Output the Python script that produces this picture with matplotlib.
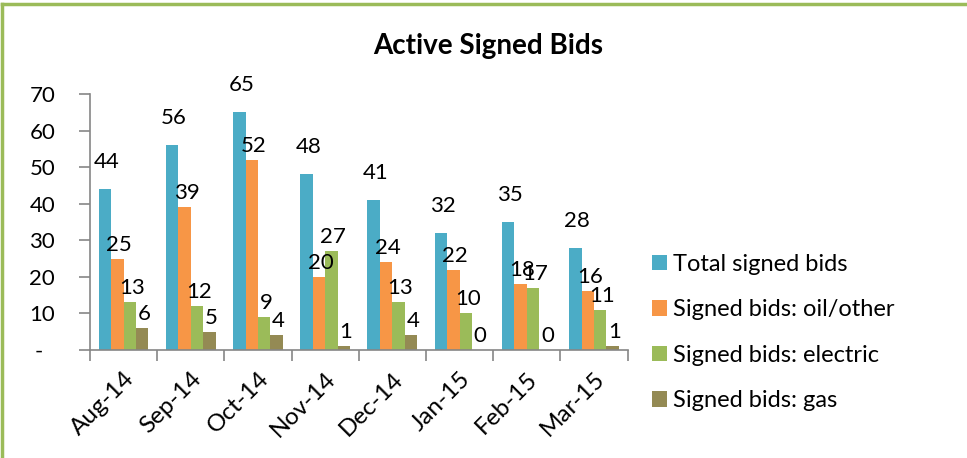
import matplotlib
matplotlib.use("Agg")
import matplotlib.pyplot as plt
import numpy as np
from matplotlib.lines import Line2D
from matplotlib.patches import Patch

plt.rcParams['font.family'] = ['Lato', 'DejaVu Sans']

months = ["Aug-14", "Sep-14", "Oct-14", "Nov-14", "Dec-14", "Jan-15", "Feb-15", "Mar-15"]
series_names = ["Total signed bids", "Signed bids: oil/other", "Signed bids: electric", "Signed bids: gas"]
total = [44, 56, 65, 48, 41, 32, 35, 28]
oil = [25, 39, 52, 20, 24, 22, 18, 16]
electric = [13, 12, 9, 27, 13, 10, 17, 11]
gas = [6, 5, 4, 1, 4, 0, 0, 1]
y_ticks = [0, 10, 20, 30, 40, 50, 60, 70]
y_ticklabels = ["-  ", "10", "20", "30", "40", "50", "60", "70"]

colors = ["#4BACC6", "#F79646", "#9BBB59", "#948A54"]
axis_col = "#868686"
label_offsets = [27, 14, 14, 14]  # pixels above bar top (label centre)

fig = plt.figure(figsize=(9.67, 4.58), dpi=100)
ax = fig.add_axes([0.093, 0.2358, 0.556, 0.559])

x = np.arange(len(months))
bw = 0.185
all_series = [total, oil, electric, gas]
for i, (vals, c) in enumerate(zip(all_series, colors)):
    pos = x + (i - 1.5) * bw
    ax.bar(pos, vals, width=bw, color=c, label=series_names[i], zorder=2)
    for p, v in zip(pos, vals):
        ax.annotate(str(v), (p, v), xytext=(2, label_offsets[i]), textcoords="offset pixels",
                    ha="center", va="center", fontsize=16, color="black")

ax.set_xlim(-0.5, len(months) - 0.5)
ax.set_ylim(0, 70)
ax.set_yticks(y_ticks)
ax.set_yticklabels(y_ticklabels, fontsize=16)
ax.set_xticks(x)
ax.set_xticklabels(months, fontsize=17.5, rotation=45, ha="right", rotation_mode="anchor")
ax.tick_params(axis="x", which="major", length=0, pad=13)
ax.set_xticks(np.arange(-0.5, len(months)), minor=True)
ax.tick_params(axis="x", which="minor", length=8, color=axis_col, width=1.2, direction="out")
ax.tick_params(axis="y", length=8, color=axis_col, width=1.2, direction="out", pad=17)
for s in ["top", "right"]:
    ax.spines[s].set_visible(False)
for s in ["left", "bottom"]:
    ax.spines[s].set_color(axis_col)
    ax.spines[s].set_linewidth(1.2)

fig.text(0.505, 0.90, "Active Signed Bids", ha="center", va="center",
         fontsize=20, fontweight="bold")

handles = [Patch(facecolor=c, edgecolor="none") for c in colors]
fig.legend(handles, series_names, loc="center left", bbox_to_anchor=(0.674, 0.274),
           frameon=False, fontsize=17, handlelength=0.64, handleheight=0.64,
           handletextpad=0.25, labelspacing=1.04, borderaxespad=0, borderpad=0)

# green frame (top and left edges visible)
fig.add_artist(Line2D([0.002, 1.0], [0.991, 0.991], transform=fig.transFigure,
                      color="#9BBB59", linewidth=2.5))
fig.add_artist(Line2D([0.002, 0.002], [0.0, 0.991], transform=fig.transFigure,
                      color="#9BBB59", linewidth=2.5))

fig.savefig("out.png", dpi=100)
